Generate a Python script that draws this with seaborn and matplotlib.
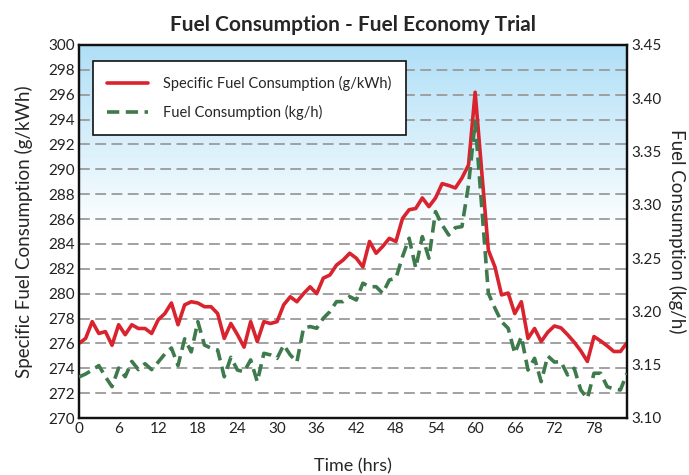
import numpy as np
import pandas as pd
import matplotlib
matplotlib.use("Agg")
import matplotlib.pyplot as plt
import seaborn as sns
from matplotlib.lines import Line2D
from matplotlib.colors import LinearSegmentedColormap

hours = list(range(84))
sfc = [276.0, 276.4, 277.75, 276.8, 276.95, 275.85, 277.5, 276.7, 277.5, 277.2,
       277.2, 276.8, 277.9, 278.4, 279.25, 277.5, 279.1, 279.35, 279.25, 278.95,
       278.95, 278.4, 276.4, 277.6, 276.7, 275.7, 277.75, 276.15, 277.75, 277.6,
       277.75, 279.1, 279.75, 279.35, 280.0, 280.55, 280.0, 281.25, 281.5, 282.3,
       282.7, 283.25, 282.85, 282.15, 284.2, 283.25, 283.8, 284.45, 284.2, 286.05,
       286.75, 286.85, 287.7, 287.0, 287.7, 288.85, 288.7, 288.5, 289.3, 290.35,
       296.2, 289.8, 283.5, 282.15, 279.9, 280.05, 278.4, 279.35, 276.4, 277.2,
       276.15, 276.9, 277.4, 277.25, 276.7, 276.1, 275.4, 274.55, 276.55, 276.2,
       275.8, 275.35, 275.35, 276.05]
fuel = [3.1385, 3.1413, 3.1450, 3.1492, 3.1387, 3.1294, 3.1469, 3.1387, 3.1531, 3.1454,
        3.1509, 3.1454, 3.1525, 3.1601, 3.1657, 3.1492, 3.1743, 3.1620, 3.1904, 3.1685,
        3.1655, 3.1638, 3.1387, 3.1569, 3.1450, 3.1434, 3.1545, 3.1341, 3.1607, 3.1592,
        3.1560, 3.1685, 3.1592, 3.1525, 3.1842, 3.1858, 3.1842, 3.1936, 3.1998, 3.2092,
        3.2092, 3.2139, 3.2107, 3.2265, 3.2232, 3.2232, 3.2170, 3.2295, 3.2311, 3.2514,
        3.2687, 3.2408, 3.2702, 3.2499, 3.2937, 3.2812, 3.2717, 3.2786, 3.2796, 3.3188,
        3.3781, 3.2980, 3.2170, 3.2030, 3.1904, 3.1842, 3.1607, 3.1763, 3.1450, 3.1560,
        3.1341, 3.1582, 3.1525, 3.1528, 3.1404, 3.1467, 3.1263, 3.1184, 3.1420, 3.1420,
        3.1294, 3.1272, 3.1263, 3.1420]
x_ticks = [0, 6, 12, 18, 24, 30, 36, 42, 48, 54, 60, 66, 72, 78]
left_ticks = list(range(270, 301, 2))
right_ticks = [3.10, 3.15, 3.20, 3.25, 3.30, 3.35, 3.40, 3.45]

sns.set_theme(style="white")
plt.rcParams['font.family'] = ['Lato', 'DejaVu Sans']

df = pd.DataFrame({"hours": hours, "sfc": sfc, "fuel": fuel})

fig = plt.figure(figsize=(6.89, 4.75), dpi=100)
ax = fig.add_axes([79/689, 1-418/475, (627-79)/689, (418-45)/475])

red = "#d9232e"
green = "#3e7a4c"

# background gradient
cmap = LinearSegmentedColormap.from_list("bg", ["#ffffff", "#ffffff", "#b0dff7"], N=256)
grad = np.linspace(0, 1, 200).reshape(-1, 1)
ax.imshow(grad, extent=[0, 83, 270, 300], origin="lower", aspect="auto",
          cmap=cmap, vmin=0, vmax=1, zorder=0)

for yv in left_ticks[1:-1]:
    ax.axhline(yv, color="#9a9a9a", lw=1.3, ls=(0, (6, 3)), zorder=1)

sns.lineplot(data=df, x="hours", y="sfc", ax=ax, color=red, lw=2.6, zorder=5)
ax.set_xlim(0, 83)
ax.set_ylim(270, 300)
ax.set_yticks(left_ticks)
ax.set_xticks(x_ticks)
ax.tick_params(axis="both", length=0, labelsize=11, colors="#222222", pad=3)

ax2 = ax.twinx()
sns.lineplot(data=df, x="hours", y="fuel", ax=ax2, color=green, lw=2.6,
             linestyle=(0, (3.4, 1.8)), zorder=4)
ax2.set_ylim(3.10, 3.45)
ax2.set_yticks(right_ticks)
ax2.set_yticklabels([f"{v:.2f}" for v in right_ticks])
ax2.tick_params(axis="y", length=0, labelsize=11, colors="#222222", pad=3)
ax2.set_xlim(0, 83)

for a in (ax, ax2):
    for s in a.spines.values():
        s.set_color("#111111")
        s.set_linewidth(1.6)

ax.set_xlabel("Time (hrs)", fontsize=13, labelpad=16)
ax.set_ylabel("Specific Fuel Consumption (g/kWh)", fontsize=13.5, labelpad=11)
ax2.set_ylabel("Fuel Consumption (kg/h)", fontsize=13.5, rotation=270, labelpad=18)
ax.set_title("Fuel Consumption - Fuel Economy Trial", fontsize=15, fontweight="bold", pad=10)

handles = [Line2D([], [], color=red, lw=2.6),
           Line2D([], [], color=green, lw=2.6, linestyle=(0, (3.4, 1.8)))]
labels = ["Specific Fuel Consumption (g/kWh)", "Fuel Consumption (kg/h)"]
leg = ax2.legend(handles, labels, loc="upper left", bbox_to_anchor=(0.02, 0.965),
                 frameon=True, fancybox=False, fontsize=10.5, handlelength=2.8,
                 borderpad=1.0, labelspacing=1.0, borderaxespad=0.2, handletextpad=1.0)
leg.get_frame().set_edgecolor("#111111")
leg.get_frame().set_linewidth(1.2)
leg.get_frame().set_facecolor("white")
leg.get_frame().set_alpha(1)
leg.set_zorder(10)

fig.savefig("out.png", dpi=100)
